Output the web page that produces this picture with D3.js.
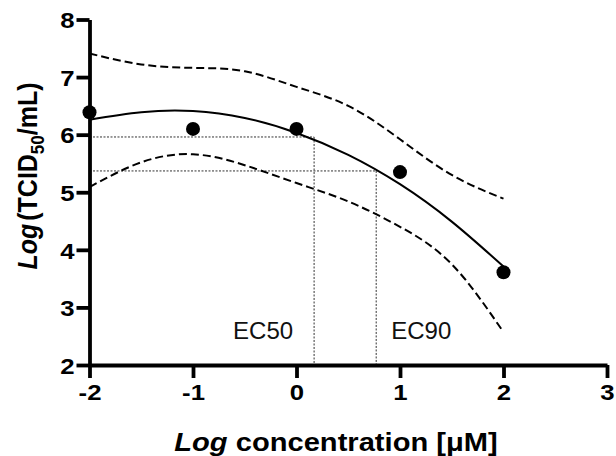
<!DOCTYPE html>
<html>
<head>
<meta charset="utf-8">
<script src="https://cdn.jsdelivr.net/npm/d3@7"></script>
<style>
  body { margin: 0; background: #fff; }
  svg { display: block; font-family: 'Liberation Sans', Arial, sans-serif; }
</style>
</head>
<body>
<svg id="chart" width="616" height="456"></svg>
<script>
// measured points
const doseX  = [-2, -1, 0, 1, 2]
const titerY = [6.39, 6.10, 6.10, 5.35, 3.61]

const curveX = [-2, -1.5, -1, -0.5, 0, 0.5, 1, 1.5, 2]
const fitY   = [6.26, 6.39, 6.41, 6.29, 6.03, 5.65, 5.14, 4.49, 3.71]
const upperY = [7.41, 7.22, 7.16, 7.10, 6.83, 6.50, 5.92, 5.30, 4.89]
const lowerY = [5.09, 5.52, 5.66, 5.47, 5.16, 4.84, 4.40, 3.75, 2.57]

// effective concentrations
const ecLabels = ['EC50', 'EC90']
const ecX      = [0.17, 0.77]
const ecY      = [5.96, 5.37]

const xTicks = [-2, -1, 0, 1, 2, 3]
const yTicks = [2, 3, 4, 5, 6, 7, 8]

const svg = d3.select('#chart')
const x = d3.scaleLinear().domain([-2, 3]).range([89.5, 607])
const y = d3.scaleLinear().domain([2, 8]).range([365, 19.5])

const line = d3.line().x(d => x(d[0])).y(d => y(d[1])).curve(d3.curveNatural)

// EC guide lines
const ec = svg.append('g')
ecX.forEach((ex, i) => {
  ec.append('line')
    .attr('x1', x(-2)).attr('x2', x(ex))
    .attr('y1', y(ecY[i])).attr('y2', y(ecY[i]))
    .attr('stroke', '#333').attr('stroke-width', 1).attr('stroke-dasharray', '2,1.5')
  ec.append('line')
    .attr('x1', x(ex)).attr('x2', x(ex))
    .attr('y1', y(ecY[i])).attr('y2', y(2))
    .attr('stroke', '#333').attr('stroke-width', 1).attr('stroke-dasharray', '2,1.5')
})
ec.selectAll('text').data(ecLabels).enter().append('text')
  .text(d => d)
  .attr('x', (d, i) => x(ecX[i]) - (i === 0 ? 81 : -15))
  .attr('y', 339)
  .attr('font-size', '24px').attr('fill', '#111')

// band
const bands = [upperY, lowerY]
svg.append('g').selectAll('path').data(bands).enter().append('path')
  .attr('d', b => line(curveX.map((cx, i) => [cx, b[i]])))
  .attr('fill', 'none').attr('stroke', '#000').attr('stroke-width', 2)
  .attr('stroke-dasharray', '8,4')

// fit
svg.append('path')
  .attr('d', line(curveX.map((cx, i) => [cx, fitY[i]])))
  .attr('fill', 'none').attr('stroke', '#000').attr('stroke-width', 2)

// axes
const TS = 1.12  // horizontal stretch of the labels in the original
const xAxis = svg.append('g').attr('transform', `translate(0,${y(2)})`)
  .call(d3.axisBottom(x).tickValues(xTicks).tickFormat(d3.format('d')).tickSize(13).tickSizeOuter(0).tickPadding(6))
const yAxis = svg.append('g').attr('transform', `translate(${x(-2)},0)`)
  .call(d3.axisLeft(y).tickValues(yTicks).tickFormat(d3.format('d')).tickSize(13).tickSizeOuter(0).tickPadding(2))

for (const ax of [xAxis, yAxis]) {
  ax.select('.domain').attr('stroke', '#000').attr('stroke-width', 3.8)
  ax.selectAll('.tick line').attr('stroke', '#000').attr('stroke-width', 3.8)
  ax.selectAll('.tick text')
    .attr('font-family', "'Liberation Sans', Arial, sans-serif")
    .attr('font-size', '23px').attr('font-weight', 'bold').attr('fill', '#000')
    .text(d => d < 0 ? '-' + Math.abs(d) : d)
}
xAxis.selectAll('.tick text').attr('transform', `scale(${TS},1)`)
yAxis.selectAll('.tick text')
  .attr('dy', '0.36em')
  .attr('x', -15 / TS)
  .attr('transform', `scale(${TS},1)`)

// points
svg.append('g').selectAll('circle').data(doseX).enter().append('circle')
  .attr('cx', d => x(d)).attr('cy', (d, i) => y(titerY[i]))
  .attr('r', 7).attr('fill', '#000')

// titles
const xt = svg.append('text')
  .attr('transform', 'translate(336,451) scale(1.12,1)').attr('text-anchor', 'middle')
  .attr('font-size', '26px').attr('font-weight', 'bold')
xt.append('tspan').attr('font-style', 'italic').text('Log')
xt.append('tspan').text(' concentration [μM]')

const yt = svg.append('text')
  .attr('transform', 'translate(37,176) rotate(-90) scale(1,1.12)').attr('text-anchor', 'middle')
  .attr('font-size', '25px').attr('font-weight', 'bold')
yt.append('tspan').attr('font-style', 'italic').text('Log')
yt.append('tspan').attr('dx', 3).text('(TCID')
yt.append('tspan').attr('font-size', '17px').attr('dy', 6).text('50')
yt.append('tspan').attr('dy', -6).text('/mL)')
</script>
</body>
</html>
